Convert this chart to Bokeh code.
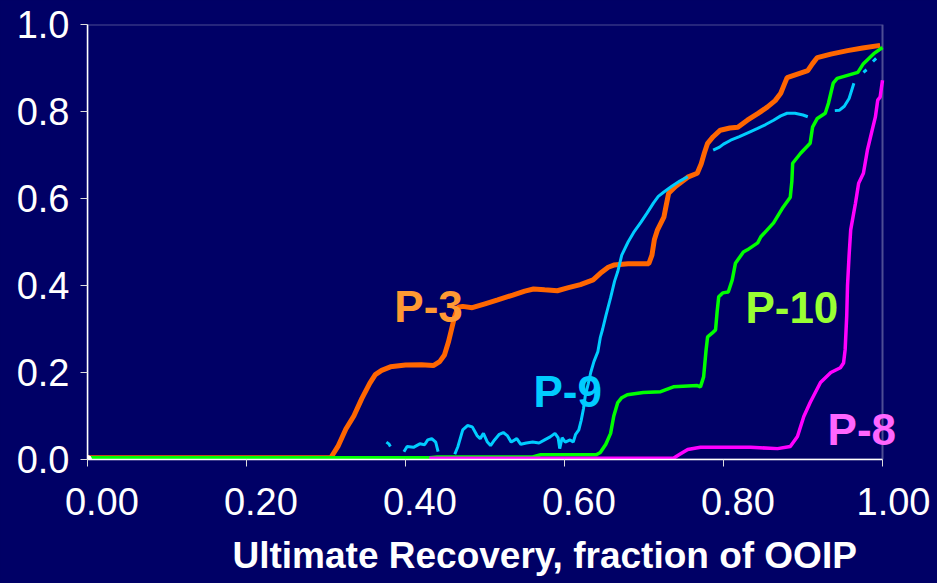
import numpy as np
from bokeh.plotting import figure
from bokeh.models import Range1d, FixedTicker, Label, Title, BoxAnnotation
from bokeh.embed import file_html
from bokeh.resources import INLINE

BG = "#000066"

# ---- data ----
p3_x = [0, 0.306, 0.315, 0.325, 0.335, 0.345, 0.355, 0.362, 0.370, 0.381, 0.400, 0.420, 0.435, 0.443,
        0.449, 0.454, 0.458, 0.462, 0.466, 0.472, 0.484, 0.500, 0.516, 0.535, 0.550, 0.561, 0.575, 0.591,
        0.605, 0.620, 0.636, 0.645, 0.655, 0.662, 0.680, 0.706, 0.710, 0.713, 0.717, 0.725, 0.728, 0.731,
        0.740, 0.755, 0.767, 0.772, 0.776, 0.780, 0.787, 0.796, 0.808, 0.818, 0.830, 0.843, 0.855, 0.865,
        0.872, 0.876, 0.880, 0.893, 0.906, 0.912, 0.918, 0.935, 0.956, 0.975, 0.997]
p3_y = [0.004, 0.004, 0.03, 0.07, 0.10, 0.14, 0.175, 0.195, 0.205, 0.213, 0.217, 0.218, 0.216, 0.225,
        0.240, 0.270, 0.300, 0.330, 0.350, 0.352, 0.349, 0.358, 0.367, 0.378, 0.387, 0.392, 0.390, 0.388,
        0.395, 0.402, 0.413, 0.428, 0.442, 0.447, 0.450, 0.450, 0.470, 0.505, 0.528, 0.557, 0.585, 0.612,
        0.628, 0.649, 0.658, 0.680, 0.705, 0.727, 0.742, 0.757, 0.762, 0.764, 0.780, 0.795, 0.810, 0.825,
        0.842, 0.860, 0.878, 0.886, 0.894, 0.910, 0.924, 0.932, 0.940, 0.946, 0.952]

nan = float("nan")
p9_x = [0.376, 0.379, 0.381, nan,
        0.398, 0.402, 0.410, 0.418, 0.424, 0.428, 0.433, 0.438, 0.441, nan,
        0.462, 0.466, 0.472, 0.478, 0.484, 0.490, 0.494, 0.498, 0.503, 0.507, 0.512, 0.518, 0.523, 0.528,
        0.533, 0.540, 0.545, 0.552, 0.560, 0.568, 0.575, 0.582, 0.588, 0.592, 0.594, 0.597, 0.601, 0.607,
        0.611, 0.614, 0.618, 0.621, 0.624, 0.626, 0.630, 0.633, 0.637, 0.642, 0.645, 0.648, 0.652, 0.658,
        0.663, 0.667, 0.672, 0.680, 0.687, 0.696, 0.704, 0.712, 0.718, 0.725, 0.735, 0.745, 0.755, nan,
        0.787, 0.795, 0.800, 0.809, 0.820, 0.832, 0.843, 0.853, 0.863, 0.872, 0.880, 0.890, 0.900, 0.906, nan,
        0.940, 0.946, 0.952, 0.958, 0.964, nan,
        0.976, 0.980, nan, 0.988, 0.992]
p9_y = [0.040, 0.036, 0.030, nan,
        0.018, 0.030, 0.028, 0.036, 0.034, 0.045, 0.048, 0.040, 0.018, nan,
        0.012, 0.030, 0.068, 0.078, 0.075, 0.055, 0.048, 0.060, 0.040, 0.032, 0.045, 0.058, 0.062, 0.055,
        0.040, 0.048, 0.035, 0.038, 0.040, 0.038, 0.045, 0.052, 0.060, 0.050, 0.025, 0.050, 0.040, 0.045,
        0.040, 0.058, 0.068, 0.090, 0.118, 0.145, 0.175, 0.200, 0.225, 0.248, 0.280, 0.300, 0.330, 0.372,
        0.410, 0.432, 0.470, 0.500, 0.522, 0.545, 0.567, 0.590, 0.605, 0.615, 0.628, 0.640, 0.650, nan,
        0.711, 0.718, 0.725, 0.734, 0.742, 0.752, 0.761, 0.770, 0.780, 0.790, 0.796, 0.796, 0.792, 0.788, nan,
        0.802, 0.803, 0.812, 0.830, 0.865, nan,
        0.890, 0.896, nan, 0.915, 0.922]

p10_x = [0, 0.43, 0.44, 0.56, 0.57, 0.640, 0.645, 0.652, 0.658, 0.662, 0.667, 0.672, 0.679, 0.699, 0.721,
         0.737, 0.767, 0.771, 0.775, 0.778, 0.780, 0.786, 0.790, 0.792, 0.794, 0.799, 0.806, 0.811, 0.815,
         0.825, 0.830, 0.843, 0.847, 0.855, 0.863, 0.875, 0.884, 0.886, 0.887, 0.897, 0.909, 0.912, 0.918,
         0.928, 0.932, 0.938, 0.943, 0.956, 0.969, 0.976, 0.989, 1.0]
p10_y = [0.004, 0.004, 0.006, 0.006, 0.011, 0.011, 0.016, 0.035, 0.060, 0.100, 0.131, 0.142, 0.149, 0.154,
         0.156, 0.167, 0.170, 0.167, 0.19, 0.25, 0.282, 0.291, 0.298, 0.340, 0.374, 0.383, 0.385, 0.413,
         0.451, 0.477, 0.482, 0.498, 0.512, 0.528, 0.544, 0.580, 0.603, 0.640, 0.681, 0.704, 0.727, 0.764,
         0.784, 0.796, 0.819, 0.865, 0.876, 0.883, 0.890, 0.910, 0.933, 0.947]

p8_x = [0.43, 0.737, 0.745, 0.755, 0.771, 0.800, 0.834, 0.868, 0.884, 0.893, 0.901, 0.909, 0.922, 0.935,
        0.947, 0.951, 0.953, 0.955, 0.956, 0.958, 0.960, 0.966, 0.970, 0.976, 0.981, 0.987, 0.991, 0.994,
        0.997, 1.0]
p8_y = [0.003, 0.003, 0.012, 0.023, 0.028, 0.028, 0.028, 0.025, 0.030, 0.053, 0.099, 0.131, 0.177, 0.200,
        0.211, 0.222, 0.252, 0.330, 0.400, 0.470, 0.528, 0.589, 0.635, 0.658, 0.711, 0.757, 0.787, 0.826,
        0.833, 0.872]

origin_x = [0.0]
origin_y = [0.0]

labels = ["P-3", "P-9", "P-10", "P-8"]
label_x = [0.429, 0.604, 0.886, 0.974]
label_y = [0.351, 0.156, 0.349, 0.069]
label_colors = ["#FF9933", "#00CCFF", "#99FF33", "#FF66FF"]

x_ticks = [0.0, 0.2, 0.4, 0.6, 0.8, 1.0]
x_tick_labels = ["0.00", "0.20", "0.40", "0.60", "0.80", "1.00"]
y_ticks = [0.0, 0.2, 0.4, 0.6, 0.8, 1.0]
y_tick_labels = ["0.0", "0.2", "0.4", "0.6", "0.8", "1.0"]
x_title = "Ultimate Recovery, fraction of OOIP"

W, H = 930, 583
FL, FT, FW, FH = 87, 24, 795, 436   # axes box placement in pixels (x 0..1, y 0..1)
EXTRA = 25                          # extra frame room right of x=1 so the P-8 label can overlap the box edge

# ---- figure ----
p = figure(width=W, height=H, output_backend="svg", toolbar_location=None,
           x_range=Range1d(0, 1 + EXTRA / FW), y_range=Range1d(0, 1),
           min_border_left=FL, min_border_right=W - FL - FW - EXTRA, min_border_top=FT,
           min_border_bottom=H - FT - FH)
p.background_fill_color = BG
p.border_fill_color = BG
p.outline_line_color = None
p.grid.visible = False

FONT = "Liberation Sans"
for ax in (p.xaxis[0], p.yaxis[0]):
    ax.axis_line_color = "white"
    ax.axis_line_width = 1.5
    ax.major_tick_line_color = "#DDDDDD"
    ax.major_tick_out = 7
    ax.major_tick_in = 0
    ax.minor_tick_line_color = None
    ax.major_label_text_color = "white"
    ax.major_label_text_font = FONT
    ax.major_label_text_font_size = "38px"
p.xaxis[0].bounds = (0, 1)

# x tick labels sit slightly right of their ticks in the original (leading no-break spaces)
pad = "\u00a0\u00a0\u2009"
p.xaxis[0].ticker = FixedTicker(ticks=x_ticks)
p.yaxis[0].ticker = FixedTicker(ticks=y_ticks)
p.xaxis[0].major_label_overrides = {t: pad + s for t, s in zip(x_ticks, x_tick_labels)}
p.yaxis[0].major_label_overrides = {t: s for t, s in zip(y_ticks, y_tick_labels)}
p.xaxis[0].major_label_standoff = 14
p.yaxis[0].major_label_standoff = 11

# white box around the 0..1 x 0..1 area
p.add_layout(BoxAnnotation(left=0, right=1, bottom=0, top=1, fill_alpha=0,
                           line_color="white", line_width=2, level="underlay"))

p.line(p3_x, p3_y, line_color="#FF6600", line_width=5)
p.line(p9_x, p9_y, line_color="#00CCFF", line_width=3)
p.line(p10_x, p10_y, line_color="#00FF00", line_width=3.5)
p.line(p8_x, p8_y, line_color="#FF00FF", line_width=3.5)
p.scatter(origin_x, origin_y, size=8, color="white")

for t, lx, ly, c in zip(labels, label_x, label_y, label_colors):
    p.add_layout(Label(x=lx, y=ly, text=t, text_align="center", text_baseline="alphabetic",
                       text_color=c, text_font=FONT, text_font_style="bold",
                       text_font_size="44px"))

# axis title (off-centre in the original)
p.add_layout(Title(text=x_title, align="left", offset=145, text_color="white", text_font=FONT,
                   text_font_style="bold", text_font_size="37px", standoff=15,
                   text_line_height=0.8), "below")

html = file_html(p, INLINE)
html = html.replace("<head>", "<head><style>html,body{background:%s;}</style>" % BG, 1)
open("out.html", "w").write(html)
